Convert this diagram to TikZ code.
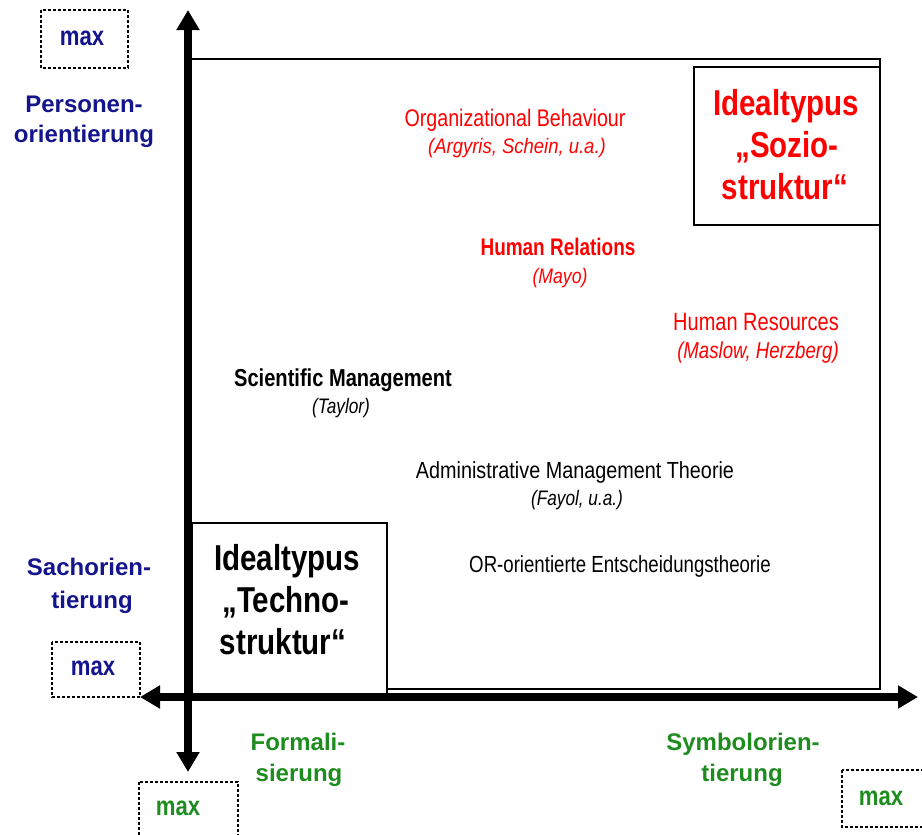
\documentclass[tikz,border=0pt]{standalone}
\usepackage{fontspec}
\setmainfont{Liberation Sans}
\usetikzlibrary{arrows.meta}

\definecolor{dimblue}{RGB}{20,20,140}
\definecolor{dimgreen}{RGB}{30,140,30}
\definecolor{socred}{RGB}{255,0,0}

% condensed sans at a given stretch and size
\newcommand\nsans[2]{\fontspec[FakeStretch=#1]{Liberation Sans}\fontsize{#2}{#2}\selectfont}

\begin{document}
\begin{tikzpicture}[x=1pt,y=-1pt,
  txt/.style={inner sep=0pt, anchor=base},
  dimlabel/.style={txt, font=\bfseries\fontsize{24}{24}\selectfont},
  maxtext/.style={inner sep=0pt, anchor=center, font=\nsans{0.82}{27}\bfseries},
  maxbox/.style={draw=black, line width=1.3pt, dash pattern=on 3pt off 2pt},
  idealbox/.style={draw=black, line width=1.6pt, fill=white},
  idealtext/.style={txt, font=\nsans{0.82}{36}\bfseries},
  axis/.style={line width=8pt, draw=black,
    {Triangle[length=20pt,width=22pt]}-{Triangle[length=20pt,width=22pt]}},
]
\useasboundingbox (0,0) rectangle (922,835);

% field of the portfolio
\draw[line width=1.5pt] (188,59) rectangle (880,689);

% ideal-type corner boxes
\draw[idealbox] (694,67) rectangle (880,225);
\draw[idealbox] (192,523) rectangle (387,697);

% "max" marks at the axis ends
\draw[maxbox] (41,10) rectangle (128,68);
\draw[maxbox] (52,642) rectangle (140,697);
\draw[maxbox] (139,782) rectangle (238,845);
\draw[maxbox] (842,770) rectangle (926,827);
\node[maxtext, text=dimblue] (maxTop) at (82,38) {max};
\node[maxtext, text=dimblue] (maxLeft) at (93,668) {max};
\node[maxtext, text=dimgreen] (maxBottom) at (178,808) {max};
\node[maxtext, text=dimgreen] (maxRight) at (881,798) {max};

% axes
\coordinate (yTop) at (188,10);
\coordinate (yBot) at (188,772);
\coordinate (xLeft) at (140,697);
\coordinate (xRight) at (918,697);
\draw[axis] (yBot) -- (yTop);
\draw[axis] (xLeft) -- (xRight);

% dimension labels
\node[dimlabel, text=dimblue] (persA) at (84,112) {Personen-};
\node[dimlabel, text=dimblue] (persB) at (84,142) {orientierung};
\node[dimlabel, text=dimblue] (sachA) at (89,575) {Sachorien-};
\node[dimlabel, text=dimblue] (sachB) at (92,608) {tierung};
\node[dimlabel, text=dimgreen] (formA) at (298,750) {Formali-};
\node[dimlabel, text=dimgreen] (formB) at (299,781) {sierung};
\node[dimlabel, text=dimgreen] (symbA) at (743,750) {Symbolorien-};
\node[dimlabel, text=dimgreen] (symbB) at (742,781) {tierung};

% ideal types
\node[idealtext, text=socred] (sozA) at (786,115) {Idealtypus};
\node[idealtext, text=socred] (sozB) at (787,157) {„Sozio-};
\node[idealtext, text=socred] (sozC) at (785,199) {struktur“};
\node[idealtext, text=black] (techA) at (287,570) {Idealtypus};
\node[idealtext, text=black] (techB) at (286,612) {„Techno-};
\node[idealtext, text=black] (techC) at (283,654) {struktur“};

% schools of organisation theory
\node[txt, text=socred, font=\nsans{0.82}{24}] (orgB) at (515,126) {Organizational Behaviour};
\node[txt, text=socred, font=\nsans{0.88}{21}\itshape] (orgBauth) at (517,153) {(Argyris, Schein, u.a.)};
\node[txt, text=socred, font=\nsans{0.79}{24}\bfseries] (humRel) at (558,255) {Human Relations};
\node[txt, text=socred, font=\nsans{0.84}{21}\itshape] (humRelAuth) at (560,283) {(Mayo)};
\node[txt, text=socred, font=\nsans{0.80}{25}] (humRes) at (756,330) {Human Resources};
\node[txt, text=socred, font=\nsans{0.81}{23}\itshape] (humResAuth) at (758,358) {(Maslow, Herzberg)};
\node[txt, text=black, font=\nsans{0.82}{24.5}\bfseries] (sciMan) at (343,386) {Scientific Management};
\node[txt, text=black, font=\nsans{0.82}{21}\itshape] (sciManAuth) at (341,413) {(Taylor)};
\node[txt, text=black, font=\nsans{0.85}{23.3}] (admMan) at (575,478) {Administrative Management Theorie};
\node[txt, text=black, font=\nsans{0.82}{21}\itshape] (admManAuth) at (577,505) {(Fayol, u.a.)};
\node[txt, text=black, font=\nsans{0.80}{23.3}] (orTheory) at (620,572) {OR-orientierte Entscheidungstheorie};
\end{tikzpicture}
\end{document}
